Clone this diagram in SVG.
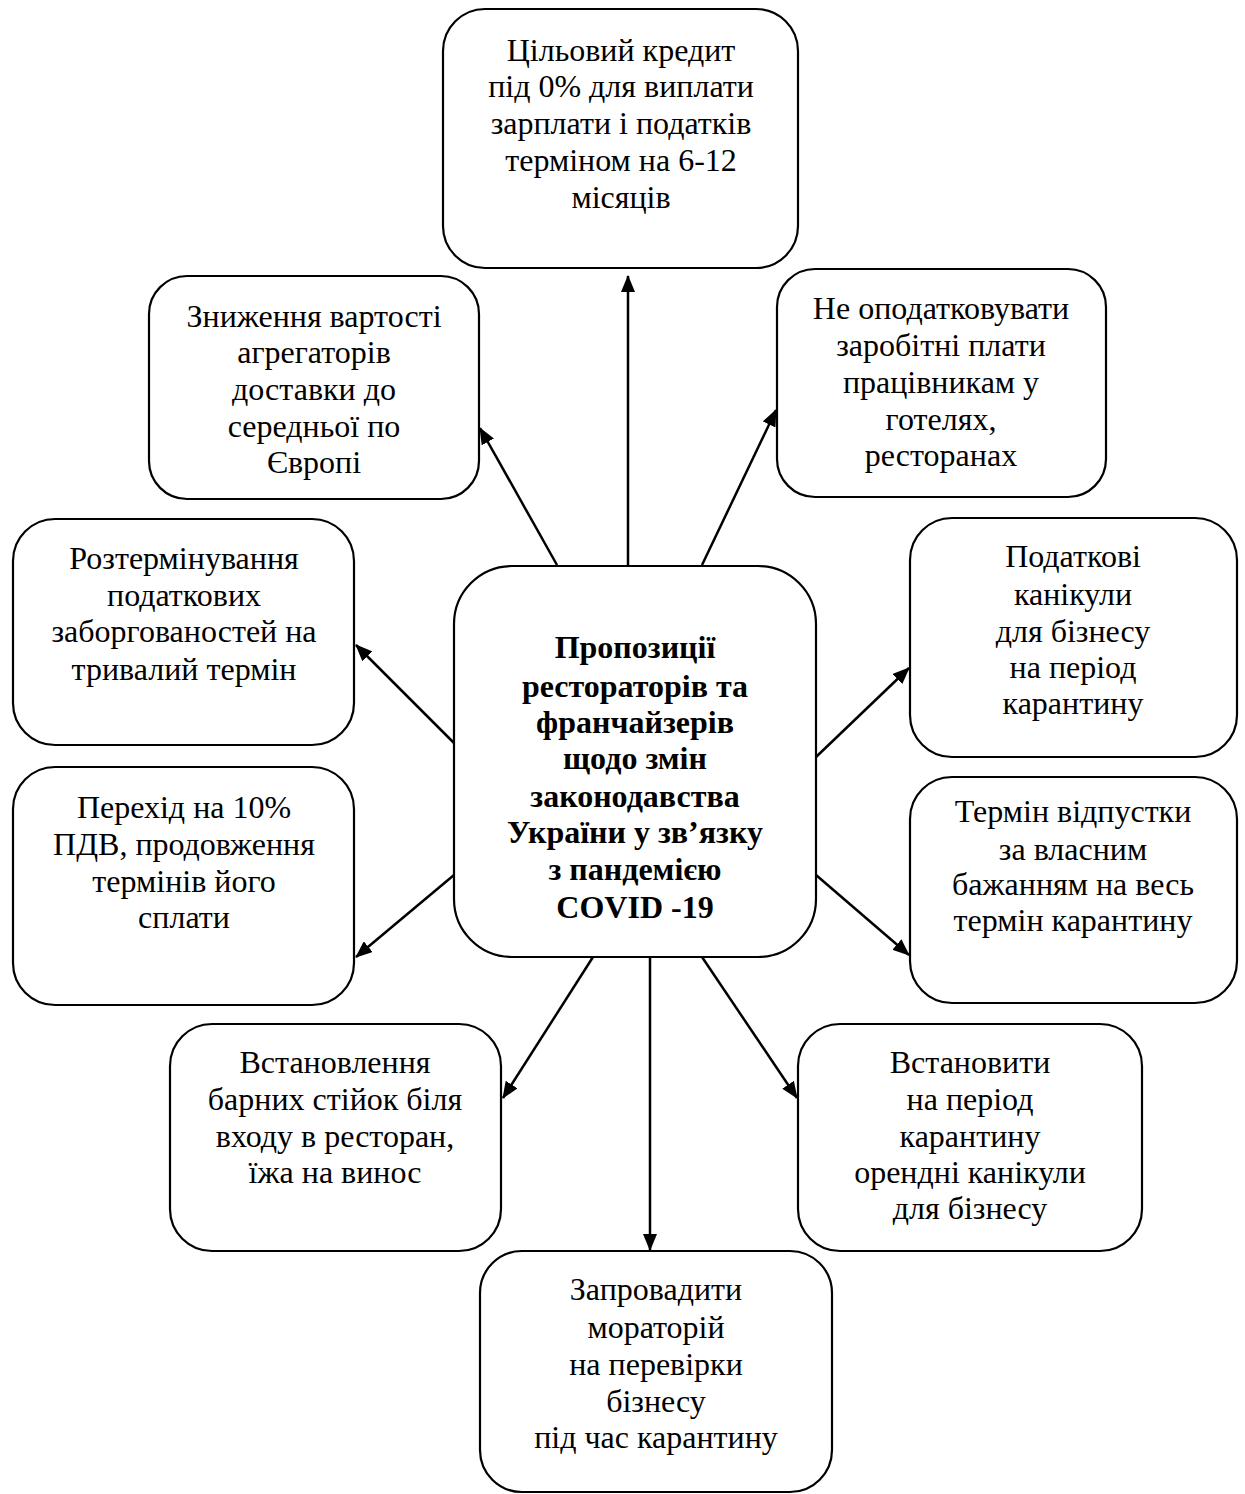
<svg xmlns="http://www.w3.org/2000/svg" width="1245" height="1494" viewBox="0 0 1245 1494">
<style>
.box{fill:#fff;stroke:#000;stroke-width:2.2}
.t{font-family:"Liberation Serif","Times New Roman",serif;font-size:32px;fill:#000;text-anchor:middle}
.b{font-weight:bold}
.c{stroke:#000;stroke-width:2.5;fill:none;marker-end:url(#ah)}
</style>
<defs>
<marker id="ah" markerUnits="userSpaceOnUse" markerWidth="18" markerHeight="14" refX="16" refY="7" orient="auto">
<path d="M0,0 L17,7 L0,14 Z" fill="#000"/>
</marker>
</defs>
<rect width="1245" height="1494" fill="#fff"/>
<g id="connectors">
<line class="c" x1="628" y1="565" x2="628" y2="276"/>
<line class="c" x1="557" y1="565" x2="480" y2="428"/>
<line class="c" x1="702" y1="565" x2="776" y2="410"/>
<line class="c" x1="454" y1="743" x2="356" y2="645"/>
<line class="c" x1="816" y1="757" x2="909" y2="668"/>
<line class="c" x1="454" y1="875" x2="356" y2="957"/>
<line class="c" x1="816" y1="875" x2="909" y2="955"/>
<line class="c" x1="593" y1="957" x2="503" y2="1098"/>
<line class="c" x1="650" y1="957" x2="650" y2="1250"/>
<line class="c" x1="702" y1="957" x2="797" y2="1098"/>
</g>
<g id="n-top">
<rect class="box" x="443" y="9" width="355" height="259" rx="42"/>
<text class="t" x="621"><tspan x="621" y="61">Цільовий кредит</tspan><tspan x="621" y="97">під 0% для виплати</tspan><tspan x="621" y="134">зарплати і податків</tspan><tspan x="621" y="171">терміном на 6-12</tspan><tspan x="621" y="208">місяців</tspan></text>
</g>
<g id="n-topleft">
<rect class="box" x="149" y="276" width="330" height="223" rx="38"/>
<text class="t"><tspan x="314" y="327">Зниження вартості</tspan><tspan x="314" y="363">агрегаторів</tspan><tspan x="314" y="400">доставки до</tspan><tspan x="314" y="437">середньої по</tspan><tspan x="314" y="473">Європі</tspan></text>
</g>
<g id="n-topright">
<rect class="box" x="777" y="269" width="329" height="228" rx="38"/>
<text class="t"><tspan x="941" y="319">Не оподатковувати</tspan><tspan x="941" y="356">заробітні плати</tspan><tspan x="941" y="393">працівникам у</tspan><tspan x="941" y="430">готелях,</tspan><tspan x="941" y="466">ресторанах</tspan></text>
</g>
<g id="n-left1">
<rect class="box" x="13" y="519" width="341" height="226" rx="42"/>
<text class="t"><tspan x="184" y="569">Розтермінування</tspan><tspan x="184" y="606">податкових</tspan><tspan x="184" y="642">заборгованостей на</tspan><tspan x="184" y="680">тривалий термін</tspan></text>
</g>
<g id="n-right1">
<rect class="box" x="910" y="518" width="327" height="239" rx="42"/>
<text class="t"><tspan x="1073" y="567">Податкові</tspan><tspan x="1073" y="605">канікули</tspan><tspan x="1073" y="642">для бізнесу</tspan><tspan x="1073" y="678">на період</tspan><tspan x="1073" y="714">карантину</tspan></text>
</g>
<g id="n-center">
<rect class="box" x="454" y="566" width="362" height="391" rx="58"/>
<text class="t b"><tspan x="635" y="658">Пропозиції</tspan><tspan x="635" y="697">рестораторів та</tspan><tspan x="635" y="733">франчайзерів</tspan><tspan x="635" y="769">щодо змін</tspan><tspan x="635" y="807">законодавства</tspan><tspan x="635" y="843">України у зв’язку</tspan><tspan x="635" y="880">з пандемією</tspan><tspan x="635" y="918">COVID -19</tspan></text>
</g>
<g id="n-left2">
<rect class="box" x="13" y="767" width="341" height="238" rx="42"/>
<text class="t"><tspan x="184" y="818">Перехід на 10%</tspan><tspan x="184" y="855">ПДВ, продовження</tspan><tspan x="184" y="892">термінів його</tspan><tspan x="184" y="928">сплати</tspan></text>
</g>
<g id="n-right2">
<rect class="box" x="910" y="777" width="327" height="226" rx="42"/>
<text class="t"><tspan x="1073" y="822">Термін відпустки</tspan><tspan x="1073" y="860">за власним</tspan><tspan x="1073" y="895">бажанням на весь</tspan><tspan x="1073" y="931">термін карантину</tspan></text>
</g>
<g id="n-bottomleft">
<rect class="box" x="170" y="1024" width="331" height="227" rx="42"/>
<text class="t"><tspan x="335" y="1073">Встановлення</tspan><tspan x="335" y="1110">барних стійок біля</tspan><tspan x="335" y="1147">входу в ресторан,</tspan><tspan x="335" y="1183">їжа на винос</tspan></text>
</g>
<g id="n-bottomright">
<rect class="box" x="798" y="1024" width="344" height="227" rx="42"/>
<text class="t"><tspan x="970" y="1073">Встановити</tspan><tspan x="970" y="1110">на період</tspan><tspan x="970" y="1147">карантину</tspan><tspan x="970" y="1183">орендні канікули</tspan><tspan x="970" y="1219">для бізнесу</tspan></text>
</g>
<g id="n-bottom">
<rect class="box" x="480" y="1251" width="352" height="241" rx="42"/>
<text class="t"><tspan x="656" y="1300">Запровадити</tspan><tspan x="656" y="1338">мораторій</tspan><tspan x="656" y="1375">на перевірки</tspan><tspan x="656" y="1412">бізнесу</tspan><tspan x="656" y="1448">під час карантину</tspan></text>
</g>
</svg>
